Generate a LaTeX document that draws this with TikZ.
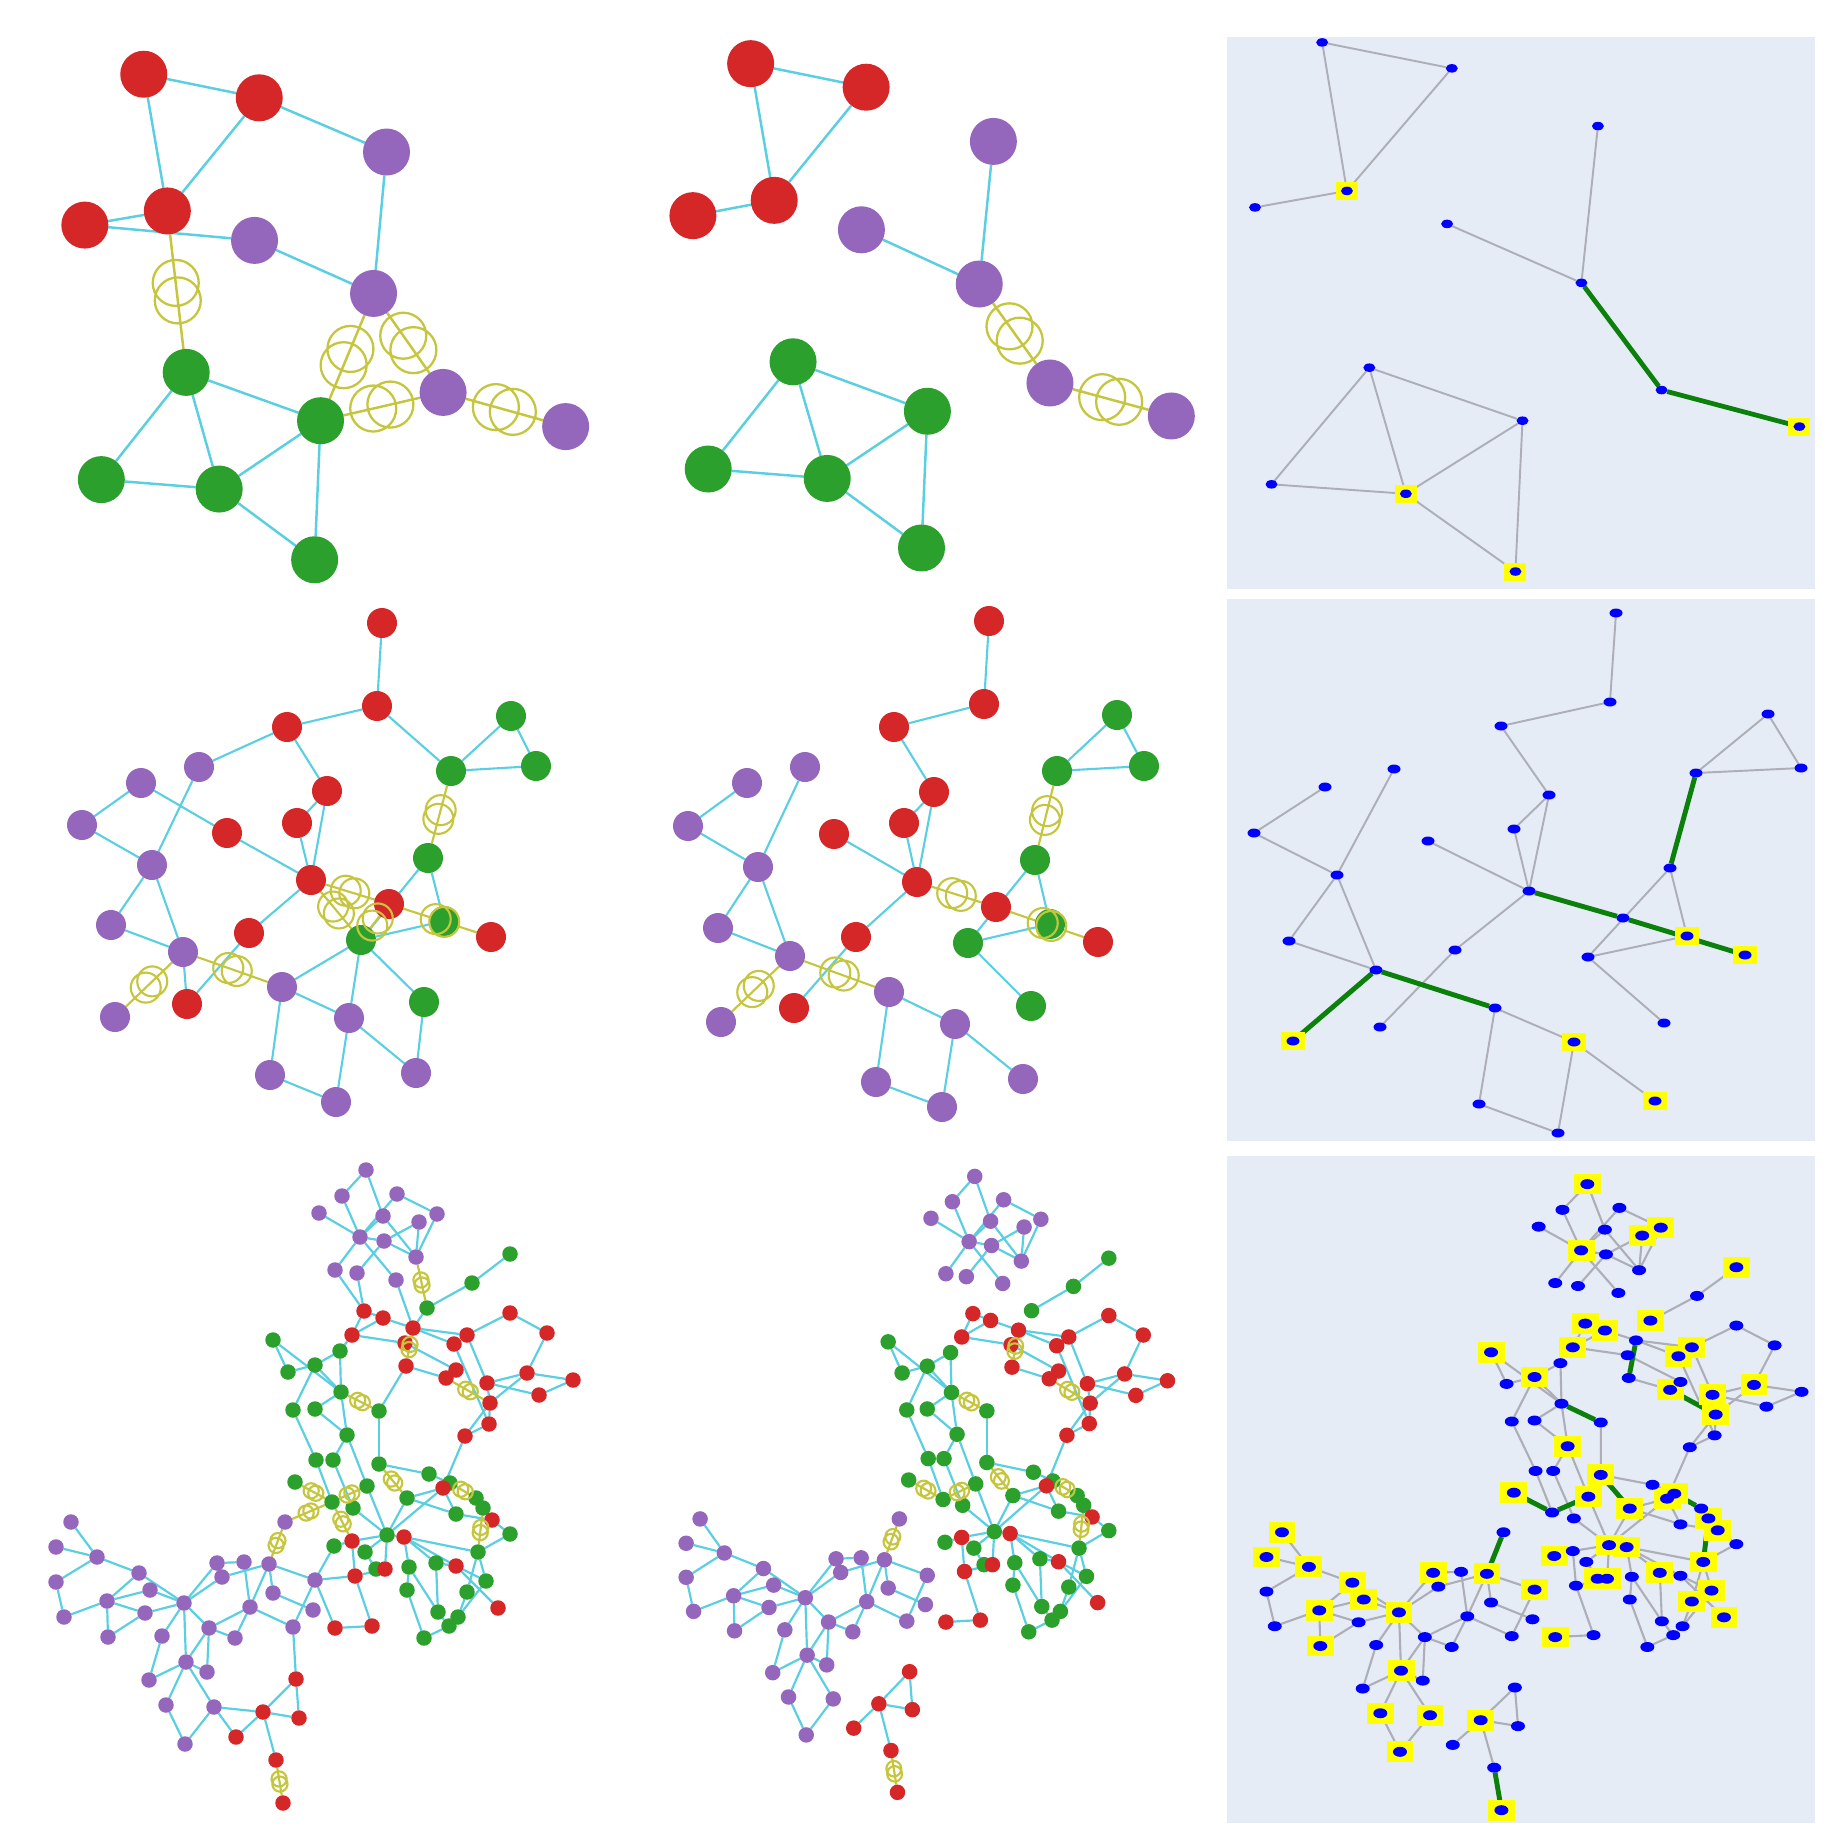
\documentclass[tikz,border=0pt]{standalone}
\usetikzlibrary{calc,shapes.geometric}
\definecolor{cR}{HTML}{D62728}
\definecolor{cP}{HTML}{9467BD}
\definecolor{cG}{HTML}{2CA02C}
\definecolor{cE}{HTML}{5ACFE2}
\definecolor{cY}{HTML}{C6C63E}
\definecolor{cBG}{HTML}{E5ECF6}
\definecolor{cGr}{HTML}{AEAEB6}
\definecolor{cGE}{HTML}{0B800B}
\definecolor{cSq}{HTML}{FFFF00}
\definecolor{cBl}{HTML}{0000FF}
\pgfdeclarelayer{bglayer}
\pgfdeclarelayer{edgelayer}
\pgfdeclarelayer{marklayer}
\pgfsetlayers{bglayer,edgelayer,marklayer,main}
\tikzset{
  dot/.style={circle,inner sep=0pt,outer sep=0pt,draw=none},
  bdot/.style={ellipse,inner sep=0pt,outer sep=0pt,fill=cBl,draw=none},
}
\newcommand\myScl{1.1784}
\newcommand\myTN[4]{\node[#1] (#2) at (\myScl*#3,\myScl*#4) {};}
\newcommand\myEc[2]{\draw[cedge] (#1) -- (#2);}
\newcommand\myEg[2]{\begin{pgfonlayer}{edgelayer}\draw[gedge] (#1) -- (#2);\end{pgfonlayer}}
\newcommand\myEy[2]{\begin{pgfonlayer}{edgelayer}\draw[yedge] (#1) -- (#2);\end{pgfonlayer}%
  \coordinate (ym) at ($(#1)!0.5!(#2)$);%
  \draw[yring] ($(ym)!\yoff!(#1)$) circle[radius=\yrad] ($(ym)!\yoff!(#2)$) circle[radius=\yrad];}
\newcommand\mySq[1]{\begin{pgfonlayer}{marklayer}\fill[cSq] ($(#1)+(-\sqw,-\sqh)$) rectangle ($(#1)+(\sqw,\sqh)$);\end{pgfonlayer}}
% bottom graph helpers
\newcommand\ndPu[2]{\node[npu] (\pf#1) at (#2) {};}
\newcommand\ndRe[2]{\node[nre] (\pf#1) at (#2) {};}
\newcommand\ndGr[2]{\node[ngr] (\pf#1) at (#2) {};}
\newcommand\bE[2]{\myEc{\pf#1}{\pf#2}}
\newcommand\bY[2]{\curY{\pf#1}{\pf#2}}
\newcommand\bS[1]{\mySq{\pf#1}}
\newcommand\bottomnodes{%
\ndPu{u1}{366,1170}\ndPu{u2}{342,1196}\ndPu{u3}{397,1194}\ndPu{u4}{319,1213}\ndPu{u5}{383,1216}\ndPu{u6}{437,1214}\ndPu{u7}{419,1222}\ndPu{u8}{360,1237}\ndPu{u9}{384,1241}\ndPu{u10}{416,1257}\ndPu{u11}{335,1270}\ndPu{u12}{357,1273}\ndPu{u13}{396,1280}%
\ndRe{r1}{364,1311}\ndRe{r2}{383,1318}\ndRe{r3}{352,1335}\ndRe{r4}{413,1328}\ndRe{r5}{405,1343}\ndRe{r6}{467,1335}\ndRe{r7}{454,1344}\ndRe{r8}{510,1313}\ndRe{r9}{547,1333}\ndRe{r10}{406,1366}\ndRe{r11}{456,1370}\ndRe{r12}{446,1378}\ndRe{r13}{487,1383}\ndRe{r14}{527,1373}\ndRe{r15}{573,1380}\ndRe{r16}{539,1395}\ndRe{r17}{490,1403}\ndRe{r18}{489,1424}\ndRe{r19}{465,1436}%
\ndGr{v1}{427,1308}\ndGr{v2}{472,1283}\ndGr{v3}{510,1254}%
\ndGr{w1}{273,1340}\ndGr{w2}{340,1351}\ndGr{w3}{288,1372}\ndGr{w4}{315,1365}\ndGr{w5}{341,1392}\ndGr{w6}{293,1410}\ndGr{w7}{315,1409}\ndGr{w8}{379,1411}\ndGr{w9}{347,1435}\ndGr{w10}{316,1460}\ndGr{w11}{333,1460}\ndGr{w12}{379,1464}\ndGr{w13}{429,1474}%
\ndGr{x1}{295,1482}\ndGr{x2}{367,1486}\ndGr{x3}{332,1502}\ndGr{x4}{353,1508}\ndGr{x5}{407,1498}\ndGr{x7}{450,1483}\ndRe{x6}{443,1488}\ndGr{x8}{476,1498}\ndGr{x9}{483,1508}\ndGr{x10}{456,1514}\ndRe{x11}{492,1520}\ndGr{x12}{510,1534}\ndGr{x13}{387,1535}\ndRe{x14}{404,1537}\ndGr{x15}{334,1546}\ndRe{x16}{352,1541}\ndGr{x17}{365,1552}\ndGr{x18}{376,1569}\ndRe{x19}{385,1569}\ndGr{x20}{409,1567}\ndGr{x21}{436,1563}\ndRe{x22}{456,1566}\ndGr{x23}{478,1552}\ndGr{x24}{486,1581}\ndGr{x25}{407,1590}\ndGr{x26}{467,1592}\ndRe{x27}{355,1576}\ndGr{x28}{438,1612}\ndGr{x29}{458,1617}\ndGr{x30}{449,1626}\ndGr{x31}{424,1638}\ndRe{x32}{498,1608}\ndRe{x33}{335,1628}\ndRe{x34}{372,1626}%
\ndPu{z1}{71,1522}\ndPu{z2}{56,1547}\ndPu{z3}{97,1557}\ndPu{z4}{56,1582}\ndPu{z5}{139,1573}\ndPu{z6}{150,1590}\ndPu{z7}{107,1601}\ndPu{z8}{64,1617}\ndPu{z9}{145,1613}\ndPu{z10}{184,1603}\ndPu{z11}{108,1637}\ndPu{z12}{162,1636}\ndPu{z13}{209,1628}\ndPu{z14}{235,1638}\ndPu{z15}{217,1563}\ndPu{z16}{222,1577}\ndPu{z17}{244,1562}\ndPu{z18}{269,1564}\ndPu{z19}{250,1607}\ndPu{z20}{273,1593}\ndPu{z21}{293,1627}\ndPu{z22}{313,1610}\ndPu{z23}{315,1580}\ndPu{z24}{285,1522}\ndPu{z25}{186,1662}\ndPu{z26}{207,1672}\ndPu{z27}{149,1680}\ndPu{z28}{166,1705}\ndPu{z29}{214,1707}\ndPu{z30}{185,1744}%
\ndRe{s3}{296,1679}\ndRe{s4}{263,1712}\ndRe{s5}{299,1718}\ndRe{s6}{236,1737}\ndRe{s7}{276,1760}\ndRe{s8}{283,1803}}
\newcommand\bottomedges{%
\bE{u1}{u2}\bE{u1}{u5}\bE{u3}{u6}\bE{u3}{u8}\bE{u4}{u8}\bE{u2}{u8}\bE{u5}{u10}\bE{u5}{u8}\bE{u7}{u9}\bE{u6}{u10}\bE{u7}{u10}\bE{u8}{u9}\bE{u8}{u11}\bE{u8}{u13}\bE{u9}{u12}\bE{u9}{u10}%
\bE{v1}{v2}\bE{v2}{v3}%
\bE{r1}{r2}\bE{r1}{r3}\bE{r2}{r3}\bE{r2}{r4}\bE{r3}{r5}\bE{r4}{r6}\bE{r4}{r7}\bE{r5}{r11}\bE{r6}{r8}\bE{r8}{r9}\bE{r9}{r14}\bE{r14}{r15}\bE{r15}{r16}\bE{r13}{r14}\bE{r13}{r16}\bE{r6}{r13}\bE{r7}{r18}\bE{r10}{r12}\bE{r11}{r12}\bE{r13}{r17}\bE{r14}{r17}\bE{r17}{r19}\bE{r18}{r19}\bE{r17}{r18}\bE{r19}{x6}%
\bE{w1}{w3}\bE{w1}{w5}\bE{w2}{w4}\bE{w2}{w5}\bE{w3}{w4}\bE{w4}{w5}\bE{w4}{w6}\bE{w5}{w7}\bE{w5}{w9}\bE{w6}{w10}\bE{w7}{w9}\bE{w9}{w11}\bE{w9}{x2}\bE{w8}{w12}\bE{w12}{w13}\bE{w10}{x3}\bE{w11}{x4}\bE{w13}{x7}%
\bE{x2}{x13}\bE{x4}{x13}\bE{x5}{x13}\bE{x5}{x6}\bE{x5}{x10}\bE{x6}{x13}\bE{x6}{x10}\bE{x8}{x9}\bE{x10}{x11}\bE{x11}{x12}\bE{x12}{x23}\bE{x13}{x16}\bE{x15}{x16}\bE{x13}{x17}\bE{x13}{x19}\bE{x17}{x18}\bE{x13}{x14}\bE{x14}{x20}\bE{x14}{x21}\bE{x14}{x22}\bE{x14}{x23}\bE{x21}{x22}\bE{x22}{x24}\bE{x22}{x32}\bE{x23}{x24}\bE{x23}{x26}\bE{x24}{x29}\bE{x26}{x29}\bE{x20}{x25}\bE{x20}{x28}\bE{x21}{x28}\bE{x25}{x31}\bE{x28}{x30}\bE{x29}{x30}\bE{x30}{x31}\bE{x16}{x27}\bE{x19}{x27}\bE{x27}{x34}\bE{x33}{x34}%
\bE{z1}{z3}\bE{z2}{z3}\bE{z3}{z4}\bE{z3}{z5}\bE{z4}{z8}\bE{z7}{z8}\bE{z5}{z7}\bE{z6}{z7}\bE{z7}{z9}\bE{z7}{z11}\bE{z9}{z11}\bE{z5}{z10}\bE{z6}{z10}\bE{z9}{z10}\bE{z10}{z15}\bE{z10}{z16}\bE{z10}{z13}\bE{z10}{z25}\bE{z10}{z12}\bE{z13}{z14}\bE{z13}{z19}\bE{z13}{z25}\bE{z13}{z26}\bE{z14}{z19}\bE{z15}{z17}\bE{z16}{z18}\bE{z17}{z19}\bE{z18}{z19}\bE{z18}{z20}\bE{z18}{z23}\bE{z19}{z21}\bE{z20}{z22}\bE{z21}{z23}\bE{z12}{z27}\bE{z25}{z26}\bE{z25}{z27}\bE{z25}{z28}\bE{z25}{z29}\bE{z28}{z30}\bE{z29}{z30}%
\bE{s3}{s4}\bE{s3}{s5}\bE{s4}{s5}\bE{s4}{s6}\bE{s4}{s7}}
\newcommand\bottomextra{\bE{u11}{r1}\bE{u12}{r1}\bE{u13}{r4}\bE{v1}{r4}\bE{r3}{w2}\bE{r10}{w8}\bE{z23}{x33}\bE{z23}{x27}\bE{z23}{x15}\bE{z21}{s3}\bE{z29}{s4}\bE{z29}{s6}}
\newcommand\bottomyel{\bY{r4}{r10}\bY{w5}{w8}\bY{r12}{r17}\bY{x1}{x3}\bY{x3}{x2}\bY{w12}{x5}\bY{x7}{x8}\bY{x9}{x23}\bY{z18}{z24}\bY{s7}{s8}}
\newcommand\bottomyelextra{\bY{u10}{v1}\bY{z24}{x3}\bY{x3}{x16}}
\newcommand\bottomsq{\bS{u1}\bS{u6}\bS{u7}\bS{u8}\bS{v1}\bS{v3}\bS{r1}\bS{r2}\bS{r3}\bS{r6}\bS{r7}\bS{r12}\bS{r13}\bS{r14}\bS{r17}\bS{w1}\bS{w4}\bS{w9}\bS{w12}\bS{x1}\bS{x2}\bS{x5}\bS{x6}\bS{x7}\bS{x9}\bS{x11}\bS{x13}\bS{x14}\bS{x15}\bS{x18}\bS{x19}\bS{x21}\bS{x23}\bS{x24}\bS{x26}\bS{x32}\bS{x33}\bS{z1}\bS{z2}\bS{z3}\bS{z5}\bS{z6}\bS{z7}\bS{z10}\bS{z11}\bS{z15}\bS{z18}\bS{z23}\bS{z25}\bS{z28}\bS{z29}\bS{z30}\bS{s4}\bS{s8}}
\begin{document}
\begin{tikzpicture}[x=0.1mm,y=-0.1mm]
\useasboundingbox (0,0) rectangle (1836,1848);
\begin{pgfonlayer}{bglayer}
\fill[white] (0,0) rectangle (1836,1848);
\fill[cBG] (1227,37) rectangle (1815,589);
\fill[cBG] (1227,599) rectangle (1815,1141);
\fill[cBG] (1227,1156) rectangle (1815,1823);
\end{pgfonlayer}
%%%%%%%%%%%%%%%% TOP ROW
\begin{scope}[cedge/.style={draw=cE,line width=0.7pt},yedge/.style={draw=cY,line width=0.7pt},yring/.style={draw=cY,line width=0.65pt},
  tR/.style={dot,fill=cR,minimum size=4.7mm},tP/.style={dot,fill=cP,minimum size=4.7mm},tG/.style={dot,fill=cG,minimum size=4.7mm}]
\def\yoff{0.88mm}\def\yrad{2.3mm}
\myTN{tR}{TLR1}{122}{63}\myTN{tR}{TLR2}{220}{83}\myTN{tR}{TLR3}{142}{179}\myTN{tR}{TLR4}{72}{191}
\myTN{tP}{TLP1}{328}{129}\myTN{tP}{TLP2}{216}{204}\myTN{tP}{TLP3}{317}{249}\myTN{tP}{TLP4}{376}{333}\myTN{tP}{TLP5}{480}{362}
\myTN{tG}{TLG1}{158}{316}\myTN{tG}{TLG2}{272}{357}\myTN{tG}{TLG3}{86}{407}\myTN{tG}{TLG4}{186}{415}\myTN{tG}{TLG5}{267}{475}
\myTN{tR}{TMR1}{637}{54}\myTN{tR}{TMR2}{735}{74}\myTN{tR}{TMR3}{657}{170}\myTN{tR}{TMR4}{588}{183}
\myTN{tP}{TMP1}{843}{120}\myTN{tP}{TMP2}{731}{195}\myTN{tP}{TMP3}{831}{241}\myTN{tP}{TMP4}{891}{325}\myTN{tP}{TMP5}{994}{353}
\myTN{tG}{TMG1}{673}{307}\myTN{tG}{TMG2}{787}{349}\myTN{tG}{TMG3}{601}{398}\myTN{tG}{TMG4}{702}{406}\myTN{tG}{TMG5}{782}{465}
\begin{pgfonlayer}{edgelayer}
\myEc{TLR1}{TLR2}\myEc{TLR1}{TLR3}\myEc{TLR2}{TLR3}\myEc{TLR2}{TLP1}\myEc{TLR3}{TLR4}\myEc{TLR4}{TLP2}\myEc{TLP1}{TLP3}\myEc{TLP2}{TLP3}
\myEc{TLG1}{TLG2}\myEc{TLG1}{TLG3}\myEc{TLG1}{TLG4}\myEc{TLG3}{TLG4}\myEc{TLG4}{TLG2}\myEc{TLG2}{TLG5}\myEc{TLG4}{TLG5}
\myEc{TMR1}{TMR2}\myEc{TMR1}{TMR3}\myEc{TMR2}{TMR3}\myEc{TMR3}{TMR4}\myEc{TMP1}{TMP3}\myEc{TMP2}{TMP3}
\myEc{TMG1}{TMG2}\myEc{TMG1}{TMG3}\myEc{TMG1}{TMG4}\myEc{TMG3}{TMG4}\myEc{TMG4}{TMG2}\myEc{TMG2}{TMG5}\myEc{TMG4}{TMG5}
\end{pgfonlayer}
\myEy{TLR3}{TLG1}\myEy{TLP3}{TLG2}\myEy{TLP3}{TLP4}\myEy{TLG2}{TLP4}\myEy{TLP4}{TLP5}
\myEy{TMP3}{TMP4}\myEy{TMP4}{TMP5}
\end{scope}
\begin{scope}[cedge/.style={draw=cGr,line width=0.55pt},gedge/.style={draw=cGE,line width=1.35pt},
  tB/.style={bdot,minimum width=1.2mm,minimum height=0.85mm}]
\def\sqw{1.1mm}\def\sqh{0.9mm}
\myTN{tB}{TRA}{1122}{36}\myTN{tB}{TRB}{1232}{58}\myTN{tB}{TRC}{1143}{162}\myTN{tB}{TRD}{1065}{176}
\myTN{tB}{TRE}{1356}{107}\myTN{tB}{TRF}{1228}{190}\myTN{tB}{TRH}{1342}{240}\myTN{tB}{TRI}{1410}{331}\myTN{tB}{TRJ}{1527}{362}
\myTN{tB}{TRK}{1162}{312}\myTN{tB}{TRL}{1292}{357}\myTN{tB}{TRM}{1079}{411}\myTN{tB}{TRN}{1193}{419}\myTN{tB}{TRO}{1286}{485}
\begin{pgfonlayer}{edgelayer}
\myEc{TRA}{TRB}\myEc{TRA}{TRC}\myEc{TRB}{TRC}\myEc{TRC}{TRD}\myEc{TRE}{TRH}\myEc{TRF}{TRH}
\myEc{TRK}{TRL}\myEc{TRK}{TRM}\myEc{TRK}{TRN}\myEc{TRM}{TRN}\myEc{TRN}{TRL}\myEc{TRL}{TRO}\myEc{TRN}{TRO}
\end{pgfonlayer}
\myEg{TRH}{TRI}\myEg{TRI}{TRJ}
\mySq{TRC}\mySq{TRJ}\mySq{TRN}\mySq{TRO}
\end{scope}
%%%%%%%%%%%%%%%% MIDDLE ROW
\begin{scope}[cedge/.style={draw=cE,line width=0.6pt},yedge/.style={draw=cY,line width=0.6pt},yring/.style={draw=cY,line width=0.6pt},
  mR/.style={dot,fill=cR,minimum size=3mm},mP/.style={dot,fill=cP,minimum size=3mm},mG/.style={dot,fill=cG,minimum size=3mm}]
\def\yoff{0.45mm}\def\yrad{1.5mm}
\node[mR] (m1) at (382,623) {};\node[mR] (m2) at (377,706) {};\node[mR] (m3) at (287,727) {};\node[mR] (m4) at (327,791) {};
\node[mR] (m5) at (297,823) {};\node[mR] (m6) at (227,833) {};\node[mR] (m7) at (311,880) {};\node[mR] (m8) at (249,933) {};
\node[mR] (m9) at (389,904) {};\node[mR] (m10) at (491,937) {};\node[mR] (m11) at (187,1004) {};
\node[mP] (p1) at (199,767) {};\node[mP] (p2) at (141,783) {};\node[mP] (p3) at (82,825) {};\node[mP] (p4) at (152,865) {};
\node[mP] (p5) at (111,925) {};\node[mP] (p6) at (183,952) {};\node[mP] (p7) at (115,1017) {};\node[mP] (p8) at (282,987) {};
\node[mP] (p9) at (349,1018) {};\node[mP] (p10) at (270,1075) {};\node[mP] (p11) at (336,1102) {};\node[mP] (p12) at (416,1073) {};
\node[mG] (g1) at (511,716) {};\node[mG] (g2) at (536,766) {};\node[mG] (g3) at (451,771) {};\node[mG] (g4) at (428,858) {};
\node[mG] (g5) at (444,921) {};\node[mG] (g6) at (361,940) {};\node[mG] (g7) at (424,1002) {};
\node[mR] (n1) at (989,621) {};\node[mR] (n2) at (984,704) {};\node[mR] (n3) at (894,727) {};\node[mR] (n4) at (934,792) {};
\node[mR] (n5) at (904,823) {};\node[mR] (n6) at (834,834) {};\node[mR] (n7) at (917,882) {};\node[mR] (n8) at (856,937) {};
\node[mR] (n9) at (996,907) {};\node[mR] (n10) at (1098,942) {};\node[mR] (n11) at (794,1008) {};
\node[mP] (q1) at (805,767) {};\node[mP] (q2) at (747,783) {};\node[mP] (q3) at (688,826) {};\node[mP] (q4) at (758,867) {};
\node[mP] (q5) at (718,928) {};\node[mP] (q6) at (790,956) {};\node[mP] (q7) at (721,1022) {};\node[mP] (q8) at (889,992) {};
\node[mP] (q9) at (955,1024) {};\node[mP] (q10) at (876,1082) {};\node[mP] (q11) at (942,1107) {};\node[mP] (q12) at (1023,1079) {};
\node[mG] (h1) at (1117,715) {};\node[mG] (h2) at (1144,766) {};\node[mG] (h3) at (1057,771) {};\node[mG] (h4) at (1035,860) {};
\node[mG] (h5) at (1050,924) {};\node[mG] (h6) at (968,943) {};\node[mG] (h7) at (1031,1006) {};
\begin{pgfonlayer}{edgelayer}
\myEc{m1}{m2}\myEc{m2}{m3}\myEc{m2}{g3}\myEc{m3}{p1}\myEc{m3}{m4}\myEc{m4}{m5}\myEc{m4}{m7}\myEc{m5}{m7}\myEc{m6}{m7}\myEc{m6}{p2}
\myEc{p1}{p4}\myEc{p2}{p3}\myEc{p3}{p4}\myEc{p4}{p5}\myEc{p4}{p6}\myEc{p5}{p6}\myEc{m7}{m8}\myEc{m8}{m11}\myEc{p6}{m11}
\myEc{g1}{g2}\myEc{g1}{g3}\myEc{g2}{g3}\myEc{g4}{g6}\myEc{g4}{g5}\myEc{g6}{g5}\myEc{g6}{p8}\myEc{g6}{g7}\myEc{g6}{p9}
\myEc{p8}{p9}\myEc{p8}{p10}\myEc{p9}{p11}\myEc{p9}{p12}\myEc{p10}{p11}\myEc{g7}{p12}
\myEc{n1}{n2}\myEc{n2}{n3}\myEc{n3}{n4}\myEc{n4}{n5}\myEc{n4}{n7}\myEc{n5}{n7}\myEc{n6}{n7}\myEc{n7}{n8}\myEc{n8}{n11}
\myEc{q1}{q4}\myEc{q2}{q3}\myEc{q3}{q4}\myEc{q4}{q5}\myEc{q4}{q6}\myEc{q5}{q6}
\myEc{h1}{h2}\myEc{h1}{h3}\myEc{h2}{h3}\myEc{h4}{h6}\myEc{h4}{h5}\myEc{h6}{h5}\myEc{h6}{h7}
\myEc{q8}{q9}\myEc{q8}{q10}\myEc{q9}{q11}\myEc{q9}{q12}\myEc{q10}{q11}
\end{pgfonlayer}
\myEy{g3}{g4}\myEy{m7}{m9}\myEy{m7}{g6}\myEy{m9}{g6}\myEy{m9}{m10}\myEy{p6}{p8}\myEy{p6}{p7}
\myEy{h3}{h4}\myEy{n7}{n9}\myEy{n9}{n10}\myEy{q6}{q8}\myEy{q6}{q7}
\end{scope}
\begin{scope}[cedge/.style={draw=cGr,line width=0.55pt},gedge/.style={draw=cGE,line width=1.4pt},
  mB/.style={bdot,minimum width=1.3mm,minimum height=0.9mm}]
\def\sqw{1.22mm}\def\sqh{0.88mm}
\node[mB] (a1) at (1616,613) {};\node[mB] (a2) at (1610,702) {};\node[mB] (a3) at (1501,726) {};\node[mB] (a4) at (1549,795) {};
\node[mB] (a5) at (1514,829) {};\node[mB] (a6) at (1428,841) {};\node[mB] (a7) at (1529,891) {};\node[mB] (a8) at (1455,950) {};
\node[mB] (a9) at (1623,918) {};\node[mB] (a10) at (1745,955) {};\node[mB] (a11) at (1380,1027) {};
\node[mB] (b1) at (1394,769) {};\node[mB] (b2) at (1325,787) {};\node[mB] (b3) at (1254,833) {};\node[mB] (b4) at (1337,875) {};
\node[mB] (b5) at (1289,941) {};\node[mB] (b6) at (1376,970) {};\node[mB] (b7) at (1293,1041) {};\node[mB] (b8) at (1495,1008) {};
\node[mB] (b9) at (1574,1042) {};\node[mB] (b10) at (1479,1104) {};\node[mB] (b11) at (1558,1133) {};\node[mB] (b12) at (1655,1101) {};
\node[mB] (c1) at (1768,714) {};\node[mB] (c2) at (1801,768) {};\node[mB] (c3) at (1696,773) {};\node[mB] (c4) at (1670,868) {};
\node[mB] (c5) at (1687,936) {};\node[mB] (c6) at (1588,957) {};\node[mB] (c7) at (1664,1023) {};
\begin{pgfonlayer}{edgelayer}
\myEc{a1}{a2}\myEc{a2}{a3}\myEc{a3}{a4}\myEc{a4}{a5}\myEc{a4}{a7}\myEc{a5}{a7}\myEc{a6}{a7}\myEc{a7}{a8}\myEc{a8}{a11}
\myEc{b1}{b4}\myEc{b2}{b3}\myEc{b3}{b4}\myEc{b4}{b5}\myEc{b4}{b6}\myEc{b5}{b6}
\myEc{c1}{c2}\myEc{c1}{c3}\myEc{c2}{c3}\myEc{c4}{c6}\myEc{c4}{c5}\myEc{c6}{c5}\myEc{c6}{c7}
\myEc{b8}{b9}\myEc{b8}{b10}\myEc{b9}{b11}\myEc{b9}{b12}\myEc{b10}{b11}
\end{pgfonlayer}
\myEg{c3}{c4}\myEg{a7}{a9}\myEg{a9}{a10}\myEg{b6}{b8}\myEg{b6}{b7}
\mySq{a10}\mySq{c5}\mySq{b7}\mySq{b9}\mySq{b12}
\end{scope}
%%%%%%%%%%%%%%%% BOTTOM ROW
\begin{scope}[npu/.style={dot,fill=cP,minimum size=1.55mm},nre/.style={dot,fill=cR,minimum size=1.55mm},ngr/.style={dot,fill=cG,minimum size=1.55mm},
  cedge/.style={draw=cE,line width=0.62pt},yedge/.style={draw=cY,line width=0.62pt},yring/.style={draw=cY,line width=0.6pt}]
\def\pf{L}\def\yoff{0.26mm}\def\yrad{0.76mm}\let\curY\myEy
\bottomnodes
\begin{pgfonlayer}{edgelayer}\bottomedges\bottomextra\end{pgfonlayer}
\bottomyel\bottomyelextra
\end{scope}
\begin{scope}[shift={(634,38)},xscale=0.931,yscale=0.973,
  npu/.style={dot,fill=cP,minimum size=1.55mm},nre/.style={dot,fill=cR,minimum size=1.55mm},ngr/.style={dot,fill=cG,minimum size=1.55mm},
  cedge/.style={draw=cE,line width=0.62pt},yedge/.style={draw=cY,line width=0.62pt},yring/.style={draw=cY,line width=0.6pt}]
\def\pf{M}\def\yoff{0.27mm}\def\yrad{0.8mm}\let\curY\myEy
\bottomnodes
\begin{pgfonlayer}{edgelayer}\bottomedges\end{pgfonlayer}
\bottomyel
\end{scope}
\begin{scope}[shift={(1208.5,27)},xscale=1.035,yscale=0.989,
  npu/.style={bdot,minimum width=1.4mm,minimum height=1.0mm},nre/.style={bdot,minimum width=1.4mm,minimum height=1.0mm},ngr/.style={bdot,minimum width=1.4mm,minimum height=1.0mm},
  cedge/.style={draw=cGr,line width=0.6pt},gedge/.style={draw=cGE,line width=1.4pt}]
\def\pf{R}\let\curY\myEg\def\sqw{1.3mm}\def\sqh{1.05mm}
\bottomnodes
\begin{pgfonlayer}{edgelayer}\bottomedges\end{pgfonlayer}
\bottomyel
\bottomsq
\end{scope}
\end{tikzpicture}
\end{document}
